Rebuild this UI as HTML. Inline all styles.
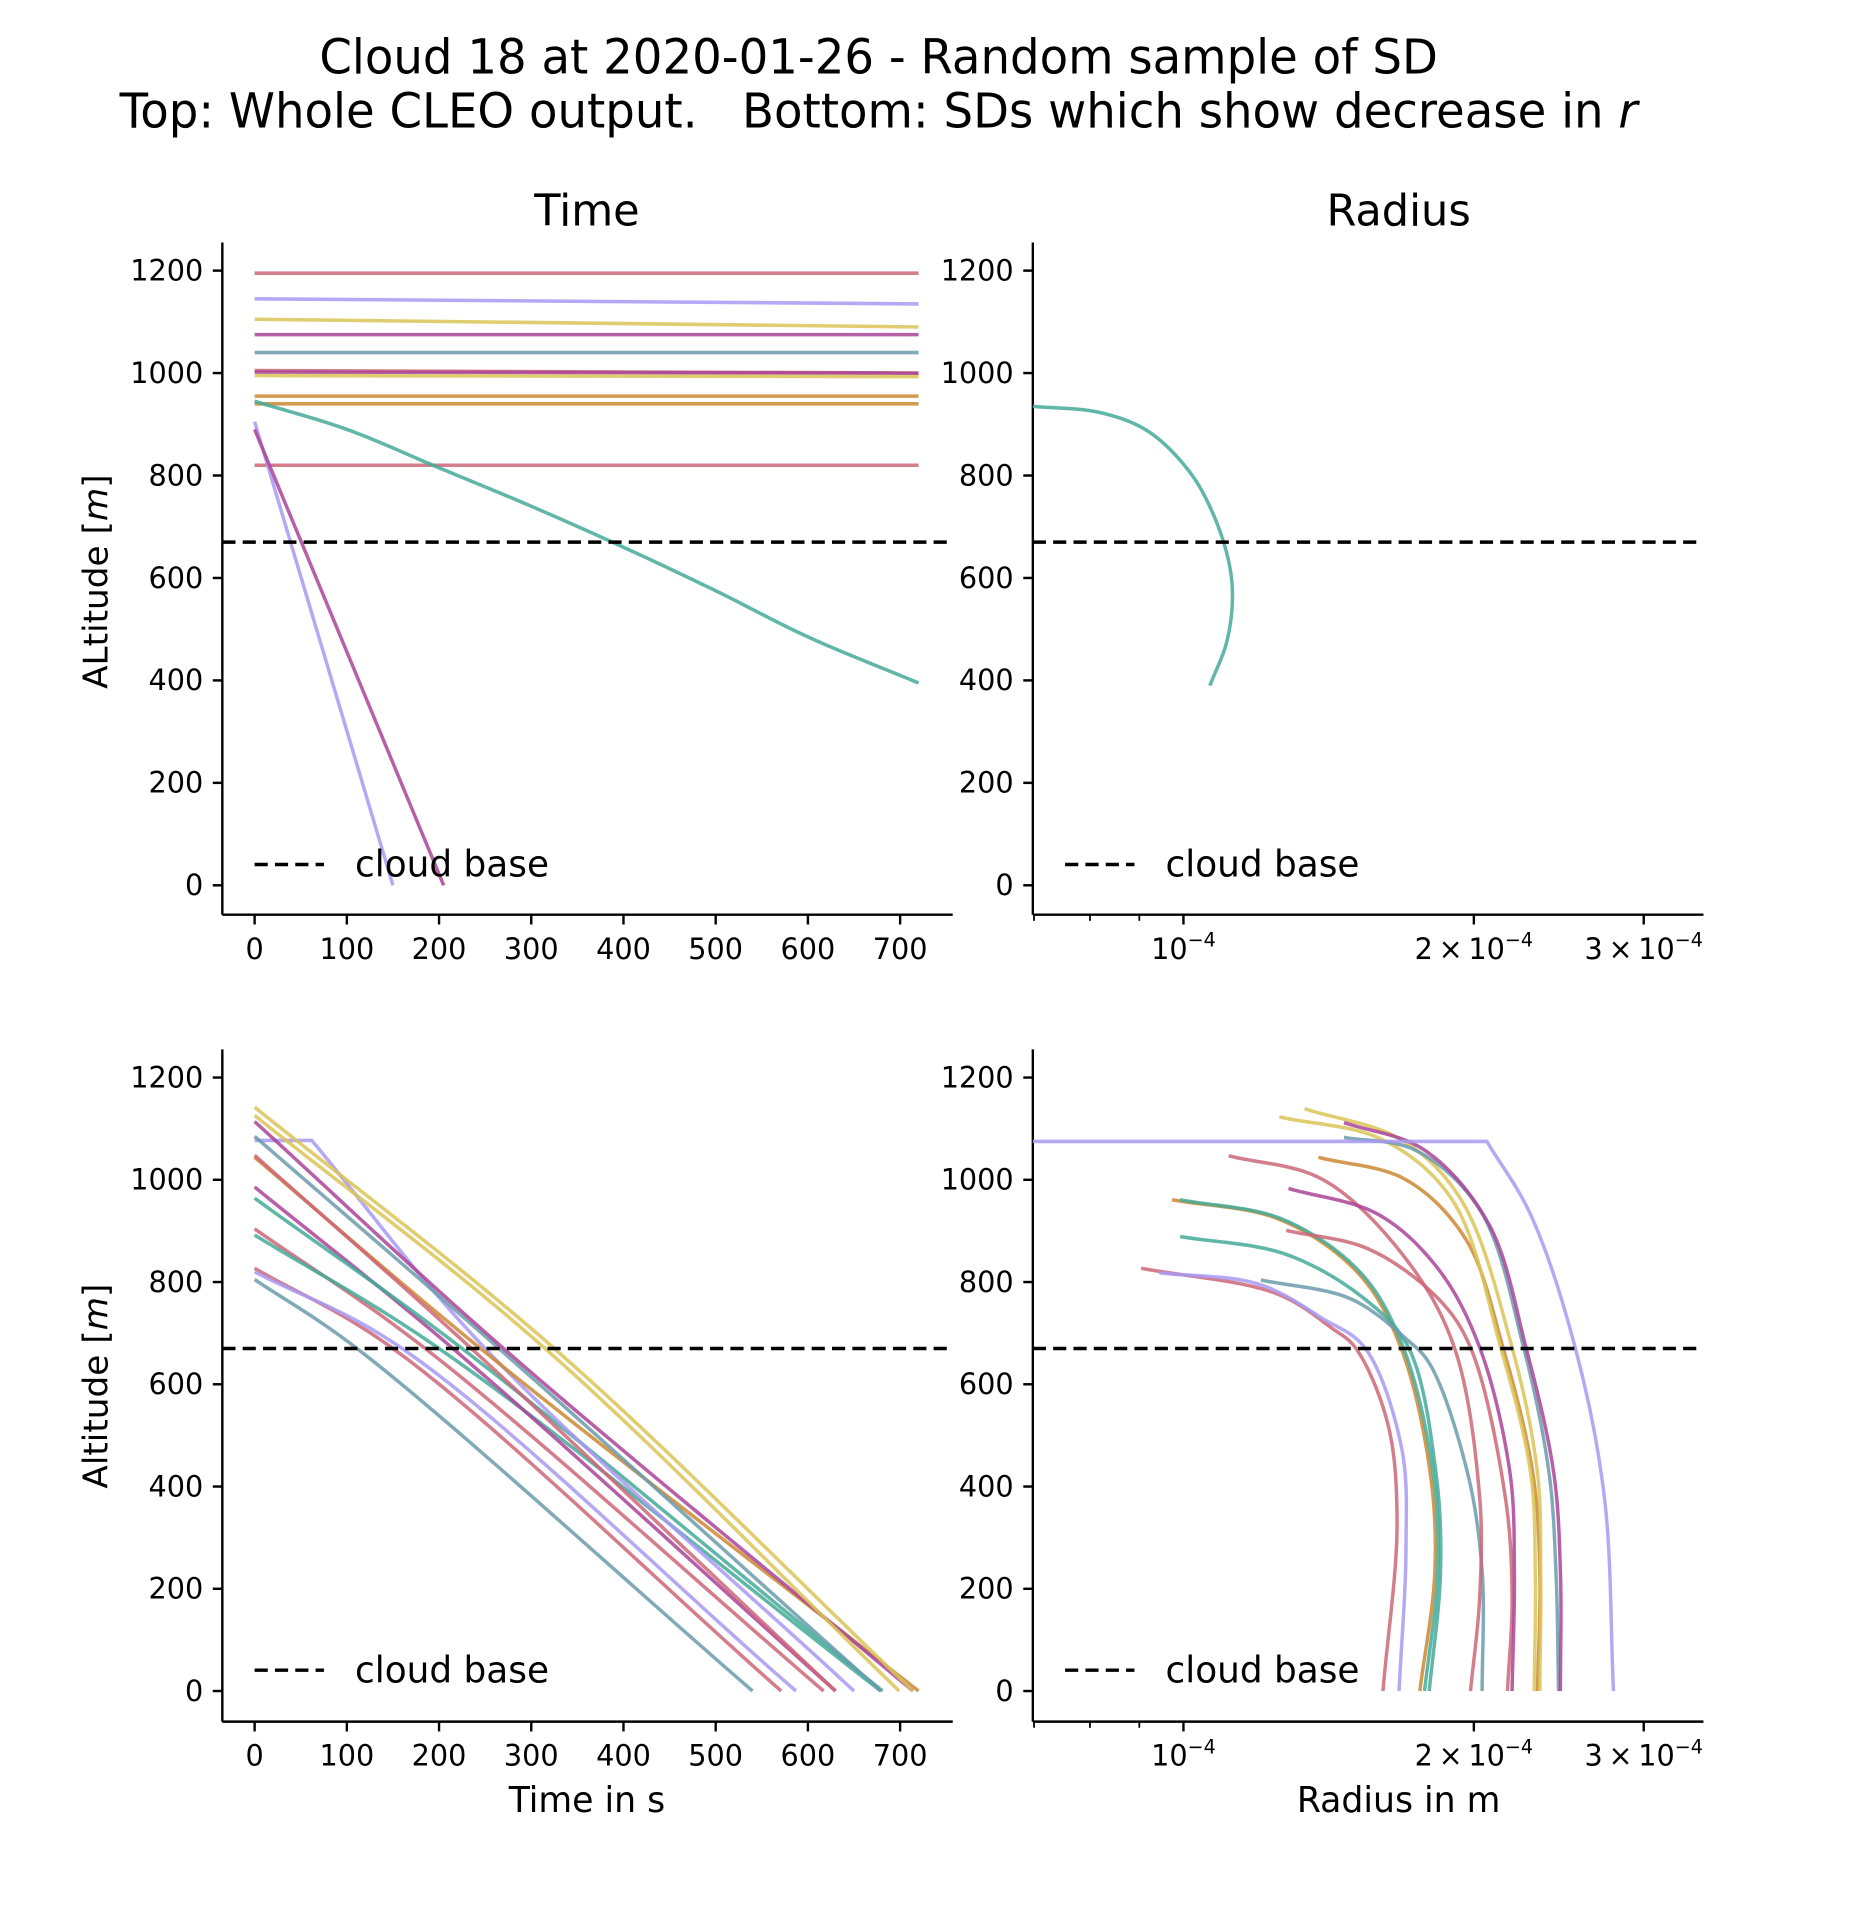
<!DOCTYPE html>
<html><head><meta charset="utf-8"><style>
html,body{margin:0;padding:0;background:#fff}
svg{display:block}
text{font-family:"DejaVu Sans","Liberation Sans",sans-serif;fill:#000;white-space:pre}
</style></head><body>
<svg id="fig" xmlns="http://www.w3.org/2000/svg" width="1872" height="1920" viewBox="0 0 1566 1568" preserveAspectRatio="none">
<defs><clipPath id="clipR"><rect x="0" y="0" width="1426" height="1568"/></clipPath></defs>
<text x="735" y="60" font-size="39" text-anchor="middle">Cloud 18 at 2020-01-26 - Random sample of SD</text>
<text x="735" y="104" font-size="39" text-anchor="middle" xml:space="preserve">Top: Whole CLEO output.   Bottom: SDs which show decrease in <tspan font-style="italic">r</tspan></text>
<text x="491" y="184" font-size="36" text-anchor="middle">Time</text>
<text x="1170" y="184" font-size="36" text-anchor="middle">Radius</text>
<g id="layer"></g>
</svg>
<script>
// ---------- data ----------
const colors = {red:'#cc6677', lav:'#a899f2', yel:'#d9c457', pur:'#aa4499', blu:'#6b9bab', ora:'#cc8833', grn:'#44aa99'};
const yTicks = [0,200,400,600,800,1000,1200];
const tTicks = [0,100,200,300,400,500,600,700];
const cloudBase = 670;
// top-left horizontal SDs
const topFlatColors = ['red','lav','yel','pur','blu','red','pur','yel','ora','ora','red'];
const topFlatStart = [1195,1145,1105,1075,1040,1005,1002,995,955,940,820];
const topFlatEnd   = [1195,1135,1090,1075,1040,1000,1000,993,955,940,820];
// top-left falling SDs (t, z)
const topFallT = [[0,150],[0,205],[0,100,200,300,400,500,600,720]];
const topFallZ = [[905,0],[890,0],[945,890,815,740,660,575,485,395]];
const topFallColors = ['lav','pur','grn'];
// top-right radius (um) vs z
const topRadR = [69.8,81.9,91.8,101.4,107.4,111.5,112.4,110.8,106.5];
const topRadZ = [935,923,887,808,724,629,557,473,390];
// bottom-left: start altitude, time at cloud base, end time
const blColors = ['blu','red','lav','red','grn','pur','grn','lav','ora','red','blu','pur','yel','yel'];
const blStartZ = [805,827,820,904,892,986,964,1077,1044,1048,1085,1114,1126,1142];
const blCrossT = [111,150,160,185,200,215,225,250,245,235,265,270,315,325];
const blEndT   = [540,571,587,617,679,630,681,650,720,630,679,714,699,714];
const blFlatUntil = [0,0,0,0,0,0,0,62,0,0,0,0,0,0];
// bottom-right radius curves (um) and altitudes (m)
const brColors = ['red','lav','ora','grn','grn','blu','red','red','pur','ora','yel','yel','blu','pur','lav'];
const brR = [
 [90.4,125.0,142.7,150.7,162.8,166.5,161],
 [94.4,119.6,139.6,154.1,168.3,170.1,167.3],
 [97.3,126.0,152.0,168.0,180.2,182.2,175.8],
 [99.2,127.0,153.0,169.0,181.5,183.5,177.8],
 [99.2,127.8,154.1,171.1,182.7,184.7,179.8],
 [120.3,149.1,170.1,180.0,197,204,204],
 [111.4,139.6,170.1,190.9,202.8,202.8,198.4],
 [127.8,155.8,183.8,198.4,215.6,219.1,216.7],
 [128.5,159.3,183.8,202.8,218.0,220.3,219.1],
 [138,170.1,196.3,214.4,230.2,234.1,232.8],
 [125.7,161,189.9,213.2,229,231.6,231.0],
 [133.5,168.3,194,219.1,232.8,234.6,234.1],
 [146.7,173.9,202.8,225.2,239.3,243.3,244.8],
 [146.7,177.8,207.3,226.5,242,245.9,245.9],
 [69.8,206.3,229,254.7,273.1,279.1]
];
const brZ = [
 [827,777,709,672,524,330,0],
 [818,796,728,672,476,282,0],
 [961,922,816,672,427,233,0],
 [961,922,816,672,427,233,0],
 [889,854,767,672,427,233,0],
 [804,767,689,640,427,233,0],
 [1047,1000,845,672,379,184,0],
 [901,864,767,672,379,184,0],
 [983,932,825,672,427,233,0],
 [1044,1000,883,672,427,233,0],
 [1123,1078,961,672,427,233,0],
 [1139,1078,961,672,427,233,0],
 [1083,1058,942,672,427,233,0],
 [1112,1058,913,672,427,233,0],
 [1075,1075,932,672,379,0]
];
const logMajor = [100,200,300];
const logMinor = [70,80,90];

// ---------- helpers ----------
const NS='http://www.w3.org/2000/svg';
const layer=document.getElementById('layer');
function mk(tag,attrs,parent){const e=document.createElementNS(NS,tag);for(const k in attrs)e.setAttribute(k,attrs[k]);(parent||layer).appendChild(e);return e;}
const xT=t=>213+t*0.7714;
const yTop=z=>723-z*0.41833;
const yBot=z=>1381-z*0.4175;
const xR=r=>990+807*Math.log10(r/100);
// centripetal Catmull-Rom through pixel points
function crPath(pts){
  if(pts.length<3)return 'M'+pts.map(p=>p.join(',')).join('L');
  const P=[[2*pts[0][0]-pts[1][0],2*pts[0][1]-pts[1][1]],...pts,
           [2*pts[pts.length-1][0]-pts[pts.length-2][0],2*pts[pts.length-1][1]-pts[pts.length-2][1]]];
  const tj=(a,b)=>Math.pow(Math.hypot(b[0]-a[0],b[1]-a[1]),0.5)||1e-4;
  let s='M'+pts[0][0]+','+pts[0][1];
  for(let i=1;i<P.length-2;i++){
    const p0=P[i-1],p1=P[i],p2=P[i+1],p3=P[i+2];
    const t0=0,t1=t0+tj(p0,p1),t2=t1+tj(p1,p2),t3=t2+tj(p2,p3);
    for(let k=1;k<=20;k++){
      const t=t1+(t2-t1)*k/20;
      const L=(a,b,ta,tb)=>[(tb-t)/(tb-ta)*a[0]+(t-ta)/(tb-ta)*b[0],(tb-t)/(tb-ta)*a[1]+(t-ta)/(tb-ta)*b[1]];
      const A1=L(p0,p1,t0,t1),A2=L(p1,p2,t1,t2),A3=L(p2,p3,t2,t3);
      const B1=L(A1,A2,t0,t2),B2=L(A2,A3,t1,t3);
      const C=L(B1,B2,t1,t2);
      s+='L'+C[0].toFixed(2)+','+C[1].toFixed(2);
    }
  }
  return s;
}
function line(d,col,name){const p=mk('path',{d:d,fill:'none',stroke:colors[col],'stroke-width':2.9,'stroke-opacity':0.85,'stroke-linejoin':'round'});

}

function axesFrame(x0,x1,yTopEdge,yBottom,yfun,name){
  const g=mk('g',{});
  
  
  mk('line',{x1:x0,y1:yTopEdge,x2:x0,y2:yBottom,stroke:'#000','stroke-width':2},g);
  mk('line',{x1:x0,y1:yBottom,x2:x1,y2:yBottom,stroke:'#000','stroke-width':2},g);
  yTicks.forEach(v=>{const y=yfun(v);
    mk('line',{x1:x0-8,y1:y,x2:x0,y2:y,stroke:'#000','stroke-width':2},g);
    const t=mk('text',{x:x0-16,y:y+8,'font-size':24,'text-anchor':'end'},g);t.textContent=v;
    
    
  });
  return g;
}
function timeTicks(g,yB){
  tTicks.forEach(v=>{const x=xT(v);
    mk('line',{x1:x,y1:yB,x2:x,y2:yB+8,stroke:'#000','stroke-width':2},g);
    const t=mk('text',{x:x,y:yB+36,'font-size':24,'text-anchor':'middle'},g);t.textContent=v;
    
    
  });
}
function logTicks(g,yB){
  logMinor.forEach(v=>{const x=xR(v);mk('line',{x1:x,y1:yB,x2:x,y2:yB+5,stroke:'#000','stroke-width':1.5},g);});
  logMajor.forEach((v,i)=>{const x=xR(v);
    mk('line',{x1:x,y1:yB,x2:x,y2:yB+8,stroke:'#000','stroke-width':2},g);
    const t=mk('text',{x:x,y:yB+36,'font-size':24,'text-anchor':'middle','clip-path':'url(#clipR)'},g);
    
    
    const pre=i===0?'10':(i+1)+'\u2009\u00d7\u200910';
    t.appendChild(document.createTextNode(pre));
    const s=mk('tspan',{dy:-10,'font-size':16},t);s.textContent='\u22124';
  });
}
function cloudLine(x0,x1,y){
  const l=mk('line',{x1:x0,y1:y,x2:x1,y2:y,stroke:'#000','stroke-width':2.8,'stroke-dasharray':'11,6'});
  
  
}
function legend(x,y){
  const g=mk('g',{});
  
  
  mk('line',{x1:x,y1:y,x2:x+58,y2:y,stroke:'#000','stroke-width':2.8,'stroke-dasharray':'11,6'},g);
  const t=mk('text',{x:x+84,y:y+10,'font-size':30},g);t.textContent='cloud base';
}

// ---------- top-left ----------
let g=axesFrame(186,797,198,747,yTop,'top-time-axes'); timeTicks(g,747);
topFlatStart.forEach((z,i)=>line(`M${xT(0)},${yTop(z)}L${xT(720)},${yTop(topFlatEnd[i])}`,topFlatColors[i],'top-time-sd-line'));
topFallT.forEach((ts,i)=>line(crPath(ts.map((t,j)=>[xT(t),yTop(topFallZ[i][j])])),topFallColors[i],'top-time-falling-sd'));
cloudLine(186,793,yTop(cloudBase)); legend(213,706);
let yl=mk('text',{transform:'translate(90,475) rotate(-90)','font-size':28,'text-anchor':'middle'});


yl.appendChild(document.createTextNode('ALtitude ['));
let m1=mk('tspan',{'font-style':'italic'},yl);m1.textContent='m';
yl.appendChild(document.createTextNode(']'));

// ---------- top-right ----------
g=axesFrame(864,1425,198,747,yTop,'top-radius-axes'); logTicks(g,747);
line(crPath(topRadR.map((r,i)=>[xR(r),yTop(topRadZ[i])])),'grn','top-radius-sd');
cloudLine(864,1425,yTop(cloudBase)); legend(891,706);

// ---------- bottom-left ----------
g=axesFrame(186,797,857,1406,yBot,'bottom-time-axes'); timeTicks(g,1406);
blStartZ.forEach((z0,i)=>{
  const pts=[[xT(blFlatUntil[i]),yBot(z0)],[xT(blCrossT[i]),yBot(cloudBase)],[xT(blEndT[i]),yBot(0)]];
  let d=crPath(pts);
  if(blFlatUntil[i]>0)d=`M${xT(0)},${yBot(z0)}L`+d.slice(1);
  line(d,blColors[i],'bottom-time-sd');
});
cloudLine(186,793,yBot(cloudBase)); legend(213,1364);
let xl=mk('text',{x:491,y:1480,'font-size':29,'text-anchor':'middle'});xl.textContent='Time in s';


yl=mk('text',{transform:'translate(90,1132) rotate(-90)','font-size':28,'text-anchor':'middle'});


yl.appendChild(document.createTextNode('Altitude ['));
m1=mk('tspan',{'font-style':'italic'},yl);m1.textContent='m';
yl.appendChild(document.createTextNode(']'));

// ---------- bottom-right ----------
g=axesFrame(864,1425,857,1406,yBot,'bottom-radius-axes'); logTicks(g,1406);
brR.forEach((rs,i)=>{
  const pts=rs.map((r,j)=>[xR(r),yBot(brZ[i][j])]);
  let d;
  if(pts[0][1]===pts[1][1]){d=`M${pts[0]}L`+crPath(pts.slice(1)).slice(1);}
  else d=crPath(pts);
  line(d,brColors[i],'bottom-radius-sd');
});
cloudLine(864,1425,yBot(cloudBase)); legend(891,1364);
xl=mk('text',{x:1170,y:1480,'font-size':29,'text-anchor':'middle'});xl.textContent='Radius in m';


</script>
</body></html>
